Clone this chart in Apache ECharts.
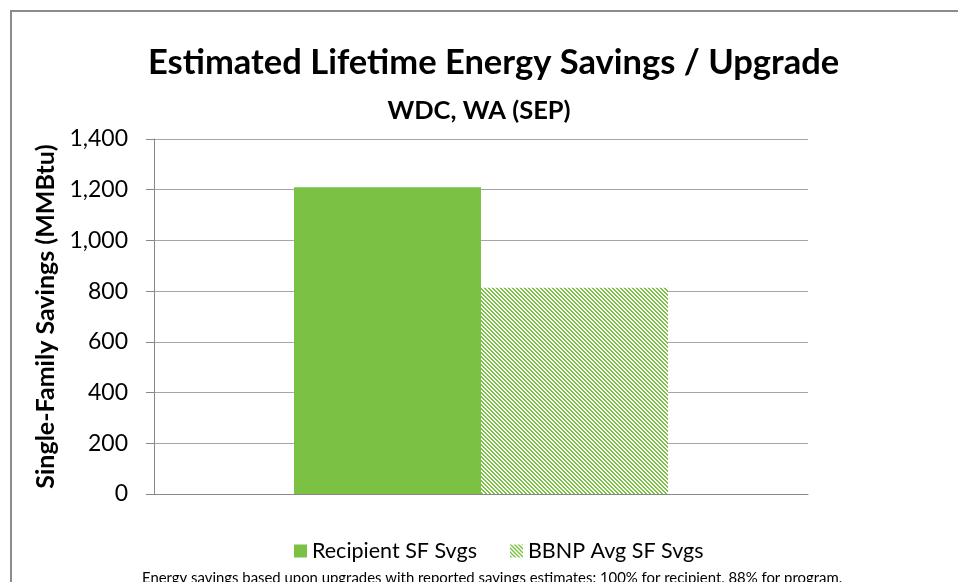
<!DOCTYPE html>
<html>
<head>
<meta charset="utf-8">
<script src="https://cdn.jsdelivr.net/npm/echarts@6/dist/echarts.min.js"></script>
<style>
html,body{margin:0;padding:0;background:#fff;}
#chart{width:958px;height:582px;}
</style>
</head>
<body>
<div id="chart"></div>
<script>
const categories = ['WDC, WA (SEP)'];
const seriesNames = ['Recipient SF Svgs', 'BBNP Avg SF Svgs'];
const recipientValues = [1210];
const bbnpValues = [813];
const yTicks = [0, 200, 400, 600, 800, 1000, 1200, 1400];

const GREEN = '#7bc143';
function makeHatch() {
  const c = document.createElement('canvas');
  c.width = 4; c.height = 4;
  const ctx = c.getContext('2d');
  ctx.fillStyle = '#ffffff';
  ctx.fillRect(0, 0, 4, 4);
  ctx.fillStyle = GREEN;
  for (let y = 0; y < 4; y++) {
    for (let x = 0; x < 4; x++) {
      const d = ((x - y) % 4 + 4) % 4;
      if (d === 0 || d === 1) ctx.fillRect(x, y, 1, 1);
    }
  }
  return c;
}
const hatch = makeHatch();

const FONT = 'Lato';
const chart = echarts.init(document.getElementById('chart'));
chart.setOption({
  animation: false,
  title: [{
    text: 'Estimated Lifetime Energy Savings / Upgrade',
    left: 143, top: 40,
    textStyle: {fontFamily: FONT, fontWeight: 'bold', fontSize: 34.5, color: '#000'}
  }, {
    text: 'WDC, WA (SEP)',
    left: 'center', top: 93,
    textStyle: {fontFamily: FONT, fontWeight: 'bold', fontSize: 25.5, color: '#000'}
  }, {
    text: 'Energy savings based upon upgrades with reported savings estimates: 100% for recipient, 88% for program.',
    left: 137, top: 566,
    textStyle: {fontFamily: FONT, fontWeight: 'normal', fontSize: 14.9, color: '#000'}
  }],
  graphic: [{
    type: 'rect',
    shape: {x: 11, y: 11, width: 1200, height: 1200},
    style: {fill: 'none', stroke: '#8c8c8c', lineWidth: 2},
    silent: true
  }],
  legend: {
    bottom: 15, left: 289,
    itemWidth: 13, itemHeight: 13, itemGap: 33,
    icon: 'rect',
    textStyle: {fontFamily: FONT, fontSize: 21.5, color: '#000'},
    data: seriesNames
  },
  grid: {left: 154, right: 150, top: 139, bottom: 88},
  xAxis: {
    type: 'category',
    data: categories,
    axisLine: {lineStyle: {color: '#888', width: 1}},
    axisTick: {show: false},
    axisLabel: {show: false}
  },
  yAxis: {
    type: 'value',
    min: yTicks[0], max: yTicks[yTicks.length - 1], interval: 200,
    axisLine: {show: true, lineStyle: {color: '#888', width: 1}},
    axisTick: {show: true, length: 8, lineStyle: {color: '#888'}},
    axisLabel: {
      fontFamily: FONT, fontSize: 23, color: '#000', margin: 26,
      formatter: v => v.toLocaleString('en-US')
    },
    splitLine: {lineStyle: {color: '#a6a6a6', width: 1}},
    name: 'Single-Family Savings (MMBtu)',
    nameLocation: 'middle', nameGap: 95,
    nameTextStyle: {fontFamily: FONT, fontWeight: 'bold', fontSize: 25, color: '#000'}
  },
  series: [{
    name: seriesNames[0], type: 'bar', data: recipientValues,
    barWidth: 187, barGap: '0%',
    itemStyle: {color: GREEN}
  }, {
    name: seriesNames[1], type: 'bar', data: bbnpValues,
    barWidth: 187, barGap: '0%',
    itemStyle: {color: {image: hatch, repeat: 'repeat'}}
  }]
});
</script>
</body>
</html>
